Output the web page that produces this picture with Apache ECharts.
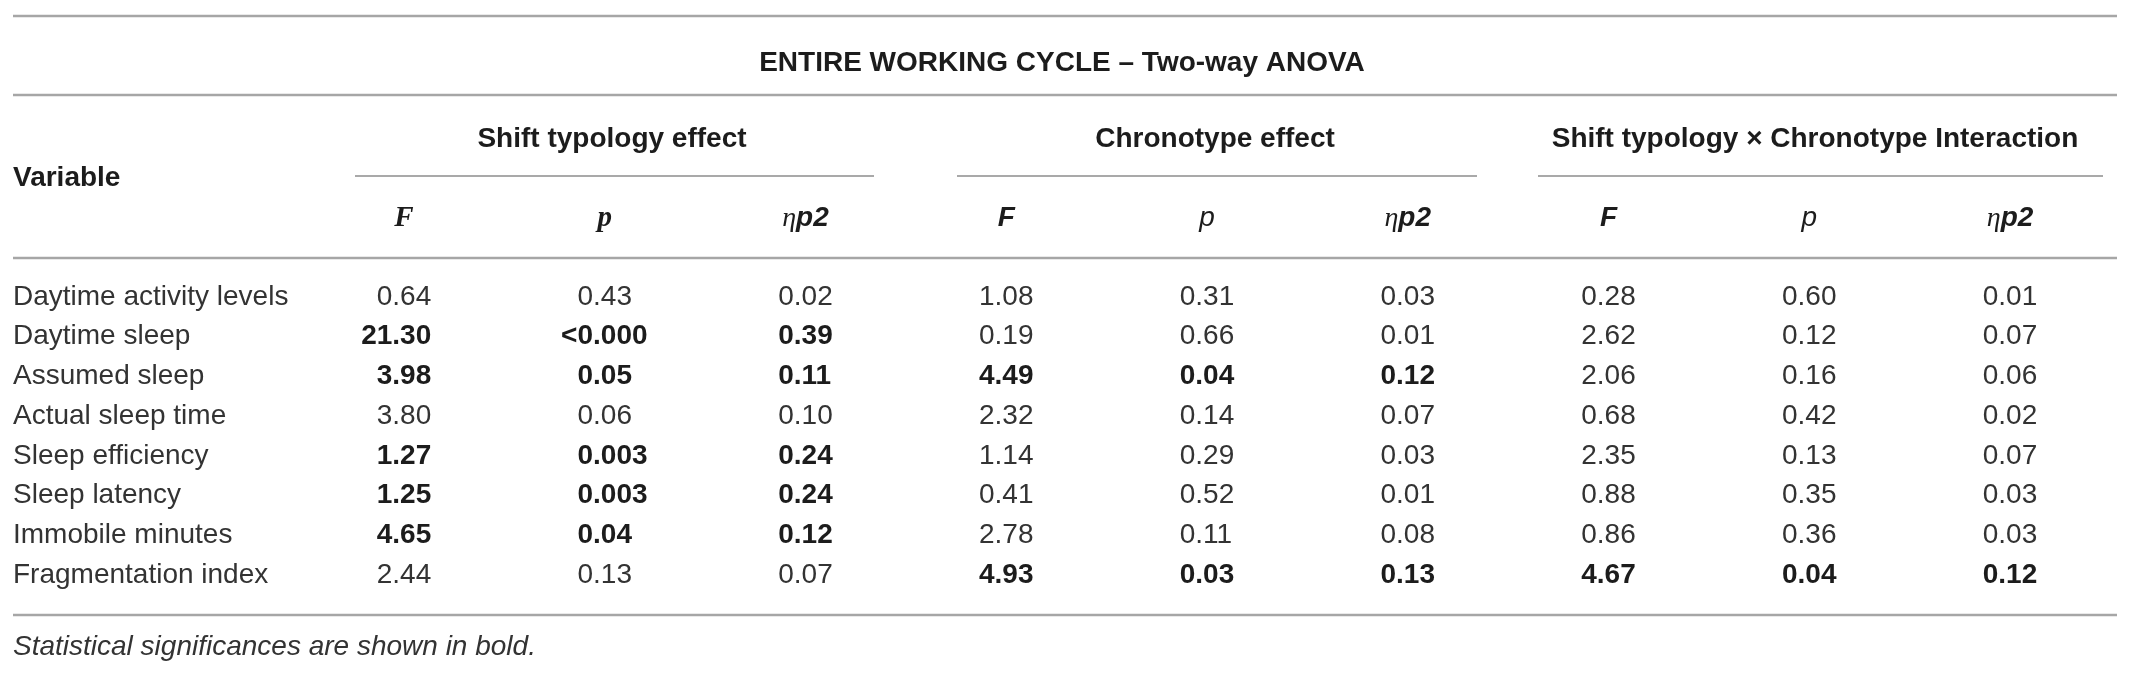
<!DOCTYPE html>
<html>
<head>
<meta charset="utf-8">
<script src="https://cdn.jsdelivr.net/npm/echarts@6/dist/echarts.min.js"></script>
<style>
  html, body { margin: 0; padding: 0; background: #fff; }
  #main { width: 2135px; height: 681px; }
</style>
</head>
<body>
<div id="main"></div>
<script>
// table content
var variables = ['Daytime activity levels', 'Daytime sleep', 'Assumed sleep', 'Actual sleep time',
  'Sleep efficiency', 'Sleep latency', 'Immobile minutes', 'Fragmentation index'];

var shiftF   = ['0.64', '21.30', '3.98', '3.80', '1.27', '1.25', '4.65', '2.44'];
var shiftP   = ['0.43', '<0.000', '0.05', '0.06', '0.003', '0.003', '0.04', '0.13'];
var shiftEta = ['0.02', '0.39', '0.11', '0.10', '0.24', '0.24', '0.12', '0.07'];
var chronoF   = ['1.08', '0.19', '4.49', '2.32', '1.14', '0.41', '2.78', '4.93'];
var chronoP   = ['0.31', '0.66', '0.04', '0.14', '0.29', '0.52', '0.11', '0.03'];
var chronoEta = ['0.03', '0.01', '0.12', '0.07', '0.03', '0.01', '0.08', '0.13'];
var interF   = ['0.28', '2.62', '2.06', '0.68', '2.35', '0.88', '0.86', '4.67'];
var interP   = ['0.60', '0.12', '0.16', '0.42', '0.13', '0.35', '0.36', '0.04'];
var interEta = ['0.01', '0.07', '0.06', '0.02', '0.07', '0.03', '0.03', '0.12'];

// 1 = significant (shown in bold)
var shiftSig  = [0, 1, 1, 0, 1, 1, 1, 0];
var chronoSig = [0, 0, 1, 0, 0, 0, 0, 1];
var interSig  = [0, 0, 0, 0, 0, 0, 0, 1];

var columnIds = ['shiftF', 'shiftP', 'shiftEta', 'chronoF', 'chronoP', 'chronoEta', 'interF', 'interP', 'interEta'];
var columnHeads = ['{fs|F}', '{ps|p}', '{eta|η}{p2|p2}', '{f|F}', '{p|p}', '{eta|η}{p2|p2}', '{f|F}', '{p|p}', '{eta|η}{p2|p2}'];

var title = 'ENTIRE WORKING CYCLE – Two-way ANOVA';
var groupNames = ['Shift typology effect', 'Chronotype effect', 'Shift typology × Chronotype Interaction'];
var footnote = 'Statistical significances are shown in bold.';

var SANS = '"Liberation Sans", Arial, Helvetica, sans-serif';
var SERIF = '"Liberation Serif", "Times New Roman", serif';

var columns = [shiftF, shiftP, shiftEta, chronoF, chronoP, chronoEta, interF, interP, interEta];
var sigs = [shiftSig, shiftSig, shiftSig, chronoSig, chronoSig, chronoSig, interSig, interSig, interSig];

var cells = [];
columns.forEach(function (col, c) {
  col.forEach(function (txt, r) {
    cells.push({ value: [c, r], text: txt, bold: sigs[c][r] === 1 });
  });
});

var chart = echarts.init(document.getElementById('main'), null, { renderer: 'canvas' });

function renderCell(params, api) {
  var cell = cells[params.dataIndex];
  var pt = api.coord([api.value(0), api.value(1)]);
  var dot = cell.text.indexOf('.');
  var head = cell.text.slice(0, dot);
  var tail = cell.text.slice(dot);
  // decimal-point alignment: "0.00" centred on the column
  var ax = pt[0] - 11.7;
  var style = {
    fontSize: 28,
    fontFamily: SANS,
    fontWeight: cell.bold ? 'bold' : 'normal',
    fill: cell.bold ? '#1c1c1c' : '#333333',
    verticalAlign: 'middle',
    textVerticalAlign: 'middle'
  };
  return {
    type: 'group',
    children: [
      { type: 'text', style: Object.assign({ text: head, x: ax, y: pt[1], align: 'right', textAlign: 'right' }, style) },
      { type: 'text', style: Object.assign({ text: tail, x: ax, y: pt[1], align: 'left', textAlign: 'left' }, style) }
    ]
  };
}

function hline(x1, x2, y, w, color) {
  return { type: 'line', silent: true, shape: { x1: x1, y1: y, x2: x2, y2: y }, style: { stroke: color, lineWidth: w } };
}
function label(text, x, y, align, font) {
  return { type: 'text', silent: true, style: { text: text, x: x, y: y, align: align, textAlign: align,
    verticalAlign: 'middle', textVerticalAlign: 'middle', font: font, fill: '#1c1c1c' } };
}

var option = {
  backgroundColor: '#ffffff',
  animation: false,
  grid: { left: 303.6, right: 24.6, top: 277.2, bottom: 86.2, containLabel: false, outerBoundsMode: 'none' },
  xAxis: {
    type: 'category',
    position: 'top',
    data: columnIds,
    axisLine: { show: false },
    axisTick: { show: false },
    splitLine: { show: false },
    axisLabel: {
      interval: 0,
      margin: 59,
      verticalAlign: 'middle',
      formatter: function (v, i) { return columnHeads[i]; },
      rich: {
        fs: { fontFamily: SERIF, fontStyle: 'italic', fontWeight: 'bold', fontSize: 29, color: '#1c1c1c' },
        ps: { fontFamily: SERIF, fontStyle: 'italic', fontWeight: 'bold', fontSize: 29, color: '#1c1c1c' },
        f: { fontFamily: SANS, fontStyle: 'italic', fontWeight: 'bold', fontSize: 28, color: '#1c1c1c' },
        p: { fontFamily: SANS, fontStyle: 'italic', fontWeight: 'normal', fontSize: 28, color: '#1c1c1c' },
        eta: { fontFamily: SERIF, fontStyle: 'italic', fontWeight: 'normal', fontSize: 28, color: '#1c1c1c' },
        p2: { fontFamily: SANS, fontStyle: 'italic', fontWeight: 'bold', fontSize: 28, color: '#1c1c1c' }
      }
    }
  },
  yAxis: {
    type: 'category',
    inverse: true,
    data: variables,
    axisLine: { show: false },
    axisTick: { show: false },
    splitLine: { show: false },
    axisLabel: {
      interval: 0,
      align: 'left',
      margin: 290.6,
      fontFamily: SANS,
      fontSize: 28,
      color: '#333333'
    }
  },
  series: [{
    type: 'custom',
    renderItem: renderCell,
    encode: { x: 0, y: 1 },
    data: cells.map(function (c) { return c.value; }),
    silent: true
  }],
  graphic: [
    hline(13, 2117, 16, 2.5, '#a6a6a6'),
    label(title, 1062, 63, 'center', 'bold 28px ' + SANS),
    hline(13, 2117, 95, 2.5, '#a6a6a6'),
    label('Variable', 13, 178, 'left', 'bold 28px ' + SANS),
    label(groupNames[0], 612, 139, 'center', 'bold 28px ' + SANS),
    label(groupNames[1], 1215, 139, 'center', 'bold 28px ' + SANS),
    label(groupNames[2], 1815, 139, 'center', 'bold 28px ' + SANS),
    hline(355, 874, 176, 1.5, '#8c8c8c'),
    hline(957, 1477, 176, 1.5, '#8c8c8c'),
    hline(1538, 2103, 176, 1.5, '#8c8c8c'),
    hline(13, 2117, 258, 2.5, '#a6a6a6'),
    hline(13, 2117, 615, 2.5, '#a6a6a6'),
    { type: 'text', silent: true, style: { text: footnote, x: 13, y: 647, align: 'left', textAlign: 'left',
      verticalAlign: 'middle', textVerticalAlign: 'middle', font: 'italic 28px ' + SANS, fill: '#333333' } }
  ]
};

chart.setOption(option);
</script>
</body>
</html>
